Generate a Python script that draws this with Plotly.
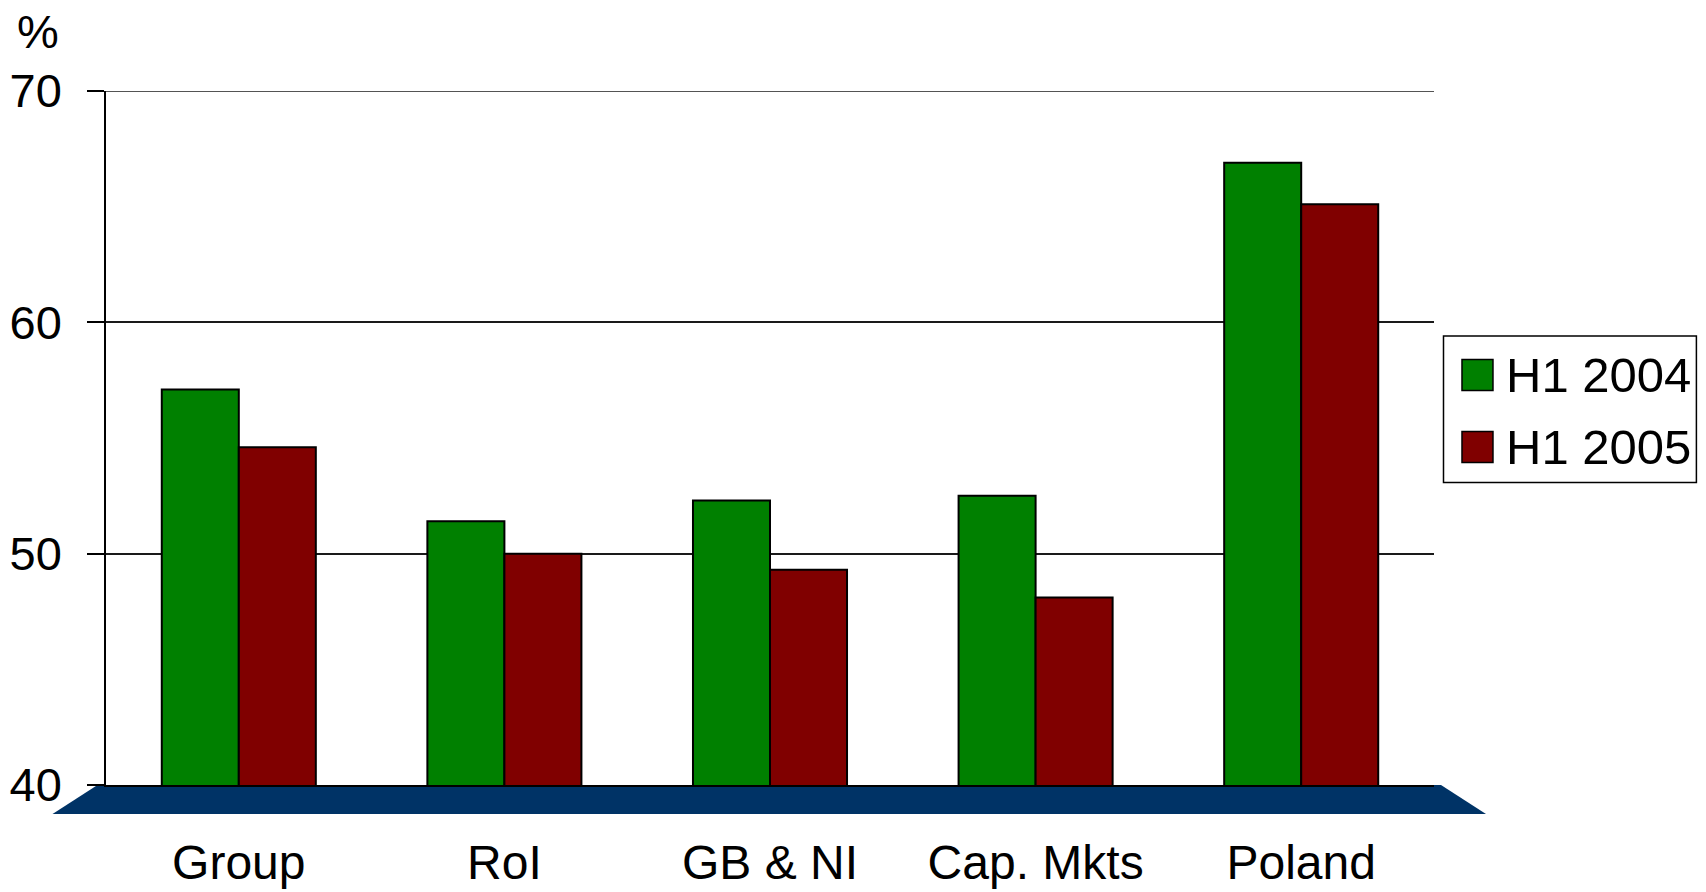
import plotly.graph_objects as go

categories = ["Group", "RoI", "GB & NI", "Cap. Mkts", "Poland"]
series_names = ["H1 2004", "H1 2005"]
h1_2004 = [57.1, 51.4, 52.3, 52.5, 66.9]
h1_2005 = [54.6, 50.0, 49.3, 48.1, 65.1]
series_colors = ["#008000", "#800000"]
y_ticks = [40, 50, 60, 70]

SCREEN_W, SCREEN_H = 1706, 892
OFF = 8  # default body margin of the page
W, H = SCREEN_W - 2 * OFF, SCREEN_H - OFF
L, R, T, B = 105.5, 1434, 91, 785  # plot area in screen pixels
FONT = "Liberation Sans, Arial, sans-serif"


def px(x):
    return (x - L) / (R - L)


def py(y):
    return (B - y) / (B - T)


fig = go.Figure()
for name, vals, col in zip(series_names, [h1_2004, h1_2005], series_colors):
    fig.add_trace(go.Bar(
        x=categories, y=vals, name=name,
        marker=dict(color=col, line=dict(color="black", width=2)),
    ))

shapes = []
# floor
shapes.append(dict(
    type="path", xref="paper", yref="paper", layer="below",
    path=(f"M {px(97)} {py(785)} L {px(1441)} {py(785)} "
          f"L {px(1486)} {py(814)} L {px(52)} {py(814)} Z"),
    fillcolor="#003366", line=dict(width=0),
))
# top gridline (range edge)
shapes.append(dict(
    type="line", xref="paper", yref="y", x0=0, x1=1, y0=y_ticks[-1], y1=y_ticks[-1],
    line=dict(color="#1a1a1a", width=1.5), layer="below",
))
# legend box
shapes.append(dict(
    type="rect", xref="paper", yref="paper",
    x0=px(1443.5), x1=px(1696.5), y0=py(482.5), y1=py(336),
    line=dict(color="black", width=1.5), fillcolor="white",
))
annotations = [dict(
    text="%", xref="paper", yref="paper", x=px(37.5), y=py(31),
    xanchor="center", yanchor="middle", showarrow=False,
    height=40, borderpad=0, valign="middle",
    font=dict(family=FONT, size=47, color="black"),
)]
row_centers = [375, 447]
for name, col, cy in zip(series_names, series_colors, row_centers):
    shapes.append(dict(
        type="rect", xref="paper", yref="paper",
        x0=px(1462), x1=px(1493), y0=py(cy + 15.5), y1=py(cy - 15.5),
        line=dict(color="black", width=1.5), fillcolor=col,
    ))
    annotations.append(dict(
        text=name, xref="paper", yref="paper", x=px(1504), y=py(cy),
        xanchor="left", yanchor="middle", showarrow=False,
        font=dict(family=FONT, size=49, color="black"),
    ))

fig.update_layout(
    width=W, height=H,
    margin=dict(l=L - OFF, r=SCREEN_W - OFF - R, t=T - OFF, b=H - (B - OFF),
                pad=0, autoexpand=False),
    paper_bgcolor="white", plot_bgcolor="white",
    barmode="group", bargap=0.42, bargroupgap=0,
    showlegend=False,
    font=dict(family=FONT, size=47, color="black"),
    shapes=shapes, annotations=annotations,
    xaxis=dict(
        automargin=False,
        showgrid=False, showline=True, linecolor="black", linewidth=1.5,
        ticks="", ticklabelstandoff=35, tickfont=dict(size=48),
    ),
    yaxis=dict(
        automargin=False,
        range=[40, 70], tickvals=y_ticks, showgrid=True,
        gridcolor="#1a1a1a", gridwidth=1.5, zeroline=False,
        showline=True, linecolor="black", linewidth=1.5,
        ticks="outside", ticklen=17, tickwidth=1.5, tickcolor="black",
        ticklabelstandoff=16, tickfont=dict(size=47),
    ),
)

fig.write_html("out.html")
